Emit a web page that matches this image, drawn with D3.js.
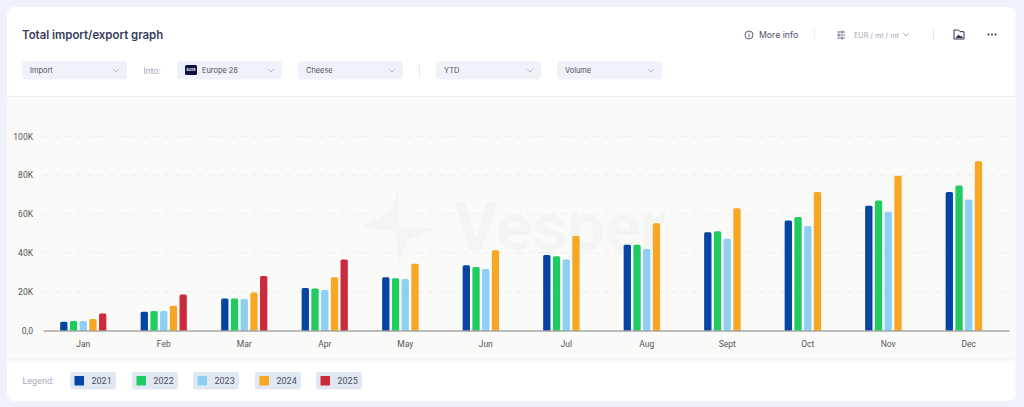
<!DOCTYPE html>
<html>
<head>
<meta charset="utf-8">
<script src="https://cdn.jsdelivr.net/npm/d3@7/dist/d3.min.js"></script>
<style>
  html, body { margin: 0; padding: 0; background: #eff3f9; overflow: hidden; }
  svg { display: block; }
  text { font-family: Roboto, sans-serif; }
  .ui { font-family: Inter, sans-serif; }
  .grid line { stroke: #eeeeec; stroke-dasharray: 6 5; }
</style>
</head>
<body>
<script>
// Chart data (thousands of mt)
const months = ['Jan', 'Feb', 'Mar', 'Apr', 'May', 'Jun', 'Jul', 'Aug', 'Sept', 'Oct', 'Nov', 'Dec'];
const years = ['2021', '2022', '2023', '2024', '2025'];
const colors = ['#0344a4', '#20cb62', '#8dd0f3', '#f7a723', '#cc293d'];
const v2021 = [4.5, 9.7, 16.5, 21.9, 27.4, 33.6, 38.9, 44.2, 50.6, 56.7, 64.3, 71.3];
const v2022 = [4.9, 10, 16.5, 21.6, 26.9, 32.7, 38.2, 44.2, 51.1, 58.4, 67, 74.7];
const v2023 = [4.9, 10, 16.2, 20.8, 26.5, 31.7, 36.5, 42, 47.3, 53.8, 61.2, 67.5];
const v2024 = [5.9, 12.8, 19.6, 27.4, 34.4, 41.3, 48.7, 55.2, 62.9, 71.3, 79.7, 87.2];
const v2025 = [8.8, 18.6, 28, 36.6];
const series = [v2021, v2022, v2023, v2024, v2025];
const yTicks = [0, 20, 40, 60, 80, 100];
const filterLabels = ['Import', 'Europe 28', 'Cheese', 'YTD', 'Volume'];

const w = 1024;
const h = 407;

const svg = d3.select('body')
  .append('svg')
  .attr('width', w)
  .attr('height', h);

// Card and chart area
svg.append('rect').attr('x', 7).attr('y', 7).attr('width', 1008.5).attr('height', 394)
  .attr('rx', 8).attr('fill', '#fff');
svg.append('rect').attr('x', 7).attr('y', 97).attr('width', 1008.5).attr('height', 262).attr('fill', '#fafaf8');
svg.append('rect').attr('x', 7).attr('y', 96).attr('width', 1008.5).attr('height', 1).attr('fill', '#eceef2');
svg.append('rect').attr('x', 7).attr('y', 359).attr('width', 1008.5).attr('height', 1.5).attr('fill', '#f3f4f5');

// Header
svg.append('text').attr('class', 'ui').attr('x', 22).attr('y', 39)
  .attr('font-size', 11.4).attr('font-weight', 600).attr('fill', '#363c5a')
  .text('Total import/export graph');

// Filter dropdowns
const filterX = [22, 177, 298, 436, 557];
const chevron = (g, x, y, color) => g.append('path')
  .attr('d', `M${x - 2.8},${y - 1.5}L${x},${y + 1.5}L${x + 2.8},${y - 1.5}`)
  .attr('fill', 'none').attr('stroke', color).attr('stroke-width', 0.8);

filterLabels.forEach((label, i) => {
  const g = svg.append('g').attr('transform', `translate(${filterX[i]},61)`);
  g.append('rect').attr('width', 105).attr('height', 18.5).attr('rx', 4).attr('fill', '#eff3f9');
  g.append('text').attr('class', 'ui')
    .attr('x', label === 'Europe 28' ? 25 : 8).attr('y', 12.3)
    .attr('font-size', 7.4).attr('fill', '#4a5068').text(label);
  chevron(g, 94, 9.5, '#a4a9ba');
});
svg.append('rect').attr('x', 185).attr('y', 65).attr('width', 12).attr('height', 10).attr('rx', 1.5).attr('fill', '#0b1140');
svg.append('text').attr('class', 'ui').attr('x', 191).attr('y', 71.3).attr('text-anchor', 'middle')
  .attr('font-size', 3.4).attr('font-weight', 700).attr('fill', '#fff').text('EU28');
svg.append('text').attr('class', 'ui').attr('x', 143.5).attr('y', 73.5)
  .attr('font-size', 8.5).attr('fill', '#a3a7b7').text('Into:');
svg.append('rect').attr('x', 419).attr('y', 65).attr('width', 1).attr('height', 11).attr('fill', '#e4e6ec');

// Header actions
svg.append('circle').attr('cx', 749).attr('cy', 35).attr('r', 4).attr('fill', 'none')
  .attr('stroke', '#4a5068').attr('stroke-width', 0.9);
svg.append('path').attr('d', 'M749,34.2V37.2M749,32.6V33.3').attr('stroke', '#4a5068').attr('stroke-width', 0.9);
svg.append('text').attr('class', 'ui').attr('x', 759).attr('y', 38)
  .attr('font-size', 8.7).attr('fill', '#4a5068').text('More info');
svg.append('rect').attr('x', 814).attr('y', 29).attr('width', 1).attr('height', 11).attr('fill', '#eef0f3');
svg.append('path').attr('d', 'M837,32H845M837,35H845M837,38H845M842,30.5V33.5M839,33.5V36.5M842,36.5V39.5')
  .attr('fill', 'none').attr('stroke', '#4a5068').attr('stroke-width', 0.8);
svg.append('text').attr('class', 'ui').attr('x', 854).attr('y', 37.5)
  .attr('font-size', 7.2).attr('fill', '#a3a7b7').text('EUR / mt / mt');
chevron(svg, 906, 34.5, '#8d92a5');
svg.append('rect').attr('x', 933).attr('y', 29).attr('width', 1).attr('height', 11).attr('fill', '#e4e6ec');
svg.append('path').attr('d', 'M954,30H958.5L960,31.7H964V39H954Z').attr('fill', 'none').attr('stroke', '#2f3553').attr('stroke-width', 1);
svg.append('path').attr('d', 'M955.5,38L958.5,34.5L960.3,36.5L961.3,35.5L963,38Z').attr('fill', '#2f3553');
svg.selectAll('.dot').data([988.5, 992, 995.5]).enter().append('circle')
  .attr('cx', (d) => d).attr('cy', 34.5).attr('r', 1).attr('fill', '#2f3553');

// Watermark
svg.append('path')
  .attr('d', 'M398,190L399,227L436,228L407,240L398,266L396,232L361,227L390,212Z')
  .attr('fill', '#f4f4f3');
svg.append('text').attr('x', 454).attr('y', 250).attr('font-family', 'Inter, sans-serif')
  .attr('font-size', 67).attr('font-weight', 700).attr('fill', '#f4f4f3').text('Vesper');

// Scales
const xScale = d3.scaleBand().domain(months).range([43, 1009]);
const yScale = d3.scaleLinear().domain([0, 100]).range([330.5, 136.3]);

// Gridlines
svg.append('g').attr('class', 'grid').selectAll('line')
  .data(yTicks.slice(1)).enter().append('line')
  .attr('x1', 43).attr('x2', 1009)
  .attr('y1', (d) => yScale(d)).attr('y2', (d) => yScale(d));

// Bars, one group per year
const barW = 7.3;
const step = 9.72;
const slot = (i) => xScale.bandwidth() / 2 - (step * 5 - (step - barW)) / 2 + i * step;
series.forEach((values, i) => {
  svg.append('g').selectAll('path')
    .data(values).enter().append('path')
    .attr('fill', colors[i])
    .attr('d', (d, j) => {
      const x = xScale(months[j]) + slot(i);
      const y = yScale(d);
      const r = 1.5;
      return `M${x},${yScale(0)}V${y + r}Q${x},${y} ${x + r},${y}H${x + barW - r}Q${x + barW},${y} ${x + barW},${y + r}V${yScale(0)}Z`;
    });
});

// Axes
const xAxis = d3.axisBottom(xScale).tickSize(0).tickPadding(10.5);
const yAxis = d3.axisLeft(yScale).tickValues(yTicks).tickSize(0).tickPadding(10)
  .tickFormat((d) => d === 0 ? '0,0' : d + 'K');

svg.append('g').attr('transform', `translate(0,${yScale(0)})`).call(xAxis)
  .call((g) => g.select('.domain').attr('stroke', '#6f6f6f').attr('stroke-width', 0.9))
  .call((g) => g.selectAll('text').attr('font-size', 8.5).attr('font-family', 'Roboto, sans-serif').attr('fill', '#555'));
svg.append('g').attr('transform', 'translate(43,0)').call(yAxis)
  .call((g) => g.select('.domain').remove())
  .call((g) => g.selectAll('text').attr('font-size', 8.5).attr('font-family', 'Roboto, sans-serif').attr('fill', '#555'));

// Legend
svg.append('text').attr('x', 22.5).attr('y', 384).attr('font-size', 9).attr('fill', '#a3a7b7').text('Legend:');
const legendX = [70, 132, 193, 255, 316];
const legend = svg.selectAll('.legend').data(years).enter().append('g')
  .attr('class', 'legend')
  .attr('transform', (d, i) => `translate(${legendX[i]},372)`);
legend.append('rect').attr('width', 46).attr('height', 17.5).attr('rx', 3).attr('fill', '#e2e8f2');
legend.append('rect').attr('x', 4.5).attr('y', 4).attr('width', 9.5).attr('height', 9.5).attr('fill', (d, i) => colors[i]);
legend.append('text').attr('x', 21.5).attr('y', 12.3).attr('font-size', 9).attr('fill', '#4a5068').text((d) => d);
</script>
</body>
</html>
